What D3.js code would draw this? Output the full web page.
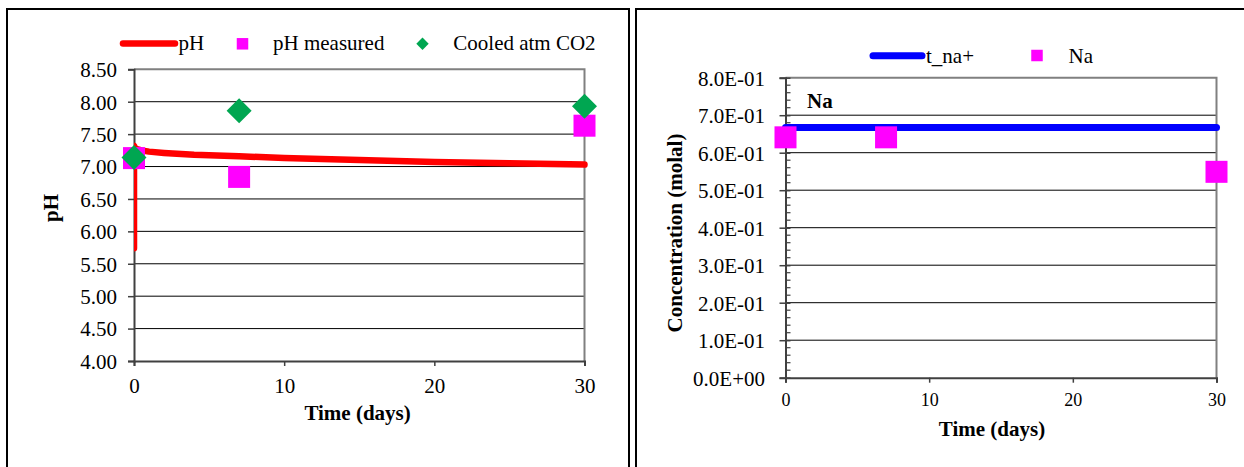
<!DOCTYPE html>
<html>
<head>
<meta charset="utf-8">
<script src="https://cdn.jsdelivr.net/npm/d3@7"></script>
<style>
  html, body { margin: 0; padding: 0; background: #fff; }
  svg { display: block; }
  text { font-family: "Liberation Serif", "Times New Roman", serif; fill: #000; }
</style>
</head>
<body>
<svg id="chart" width="1244" height="467"></svg>
<script>
// ---- pH panel data ----
const phTime = [0, 0, 0.05, 0.2, 0.5, 1, 2, 4, 7, 10, 15, 20, 25, 30];
const phModel = [5.74, 7.32, 7.29, 7.27, 7.25, 7.23, 7.21, 7.18, 7.16, 7.13, 7.10, 7.07, 7.05, 7.03];
const measTime = [0, 7, 30];
const phMeasured = [7.13, 6.84, 7.63];
const cooledTime = [0, 7, 30];
const phCooled = [7.14, 7.86, 7.93];
const phTicks = [4.0, 4.5, 5.0, 5.5, 6.0, 6.5, 7.0, 7.5, 8.0, 8.5];
const timeTicks = [0, 10, 20, 30];

// ---- Na panel data ----
const naModelTime = [0, 30];
const naModel = [0.667, 0.667];
const naTime = [0, 7, 30];
const naMeasured = [0.641, 0.641, 0.549];
const concTicks = [0, 0.1, 0.2, 0.3, 0.4, 0.5, 0.6, 0.7, 0.8];

const svg = d3.select("#chart");
svg.append("rect").attr("width", 1244).attr("height", 467).attr("fill", "#fff");

// panel frames
svg.append("rect").attr("x", 7).attr("y", 9).attr("width", 622).attr("height", 480)
  .attr("fill", "none").attr("stroke", "#000").attr("stroke-width", 2);
svg.append("rect").attr("x", 636).attr("y", 9).attr("width", 620).attr("height", 480)
  .attr("fill", "none").attr("stroke", "#000").attr("stroke-width", 2);

const FS = 21;
const MAGENTA = "#ff00ff", GREEN = "#00a651", RED = "#ff0000", BLUE = "#0000ff";

function squareAt(g, cx, cy, s, color) {
  g.append("rect").attr("x", cx - s / 2).attr("y", cy - s / 2)
    .attr("width", s).attr("height", s).attr("fill", color);
}
function diamondAt(g, cx, cy, r, color) {
  g.append("path")
    .attr("d", `M${cx},${cy - r}L${cx + r},${cy}L${cx},${cy + r}L${cx - r},${cy}Z`)
    .attr("fill", color);
}

// ================= Left panel: pH =================
{
  const x = d3.scaleLinear().domain([0, 30]).range([134, 584.5]);
  const y = d3.scaleLinear().domain([4, 8.5]).range([361, 69.3]);
  const g = svg.append("g");

  // gridlines
  g.append("g").selectAll("line").data(phTicks.filter(v => v > 4 && v < 8.5)).join("line")
    .attr("x1", x(0)).attr("x2", x(30))
    .attr("y1", d => y(d)).attr("y2", d => y(d))
    .attr("stroke", "#000").attr("stroke-width", 1);

  // plot frame (top & right)
  g.append("path")
    .attr("d", `M${x(0)},${y(8.5)}H${x(30)}V${y(4)}`)
    .attr("fill", "none").attr("stroke", "#808080").attr("stroke-width", 2);

  // y axis
  const ya = g.append("g").attr("transform", `translate(${x(0)},0)`)
    .call(d3.axisLeft(y).tickValues(phTicks).tickFormat(d3.format(".2f")).tickSize(6).tickPadding(11));
  ya.select(".domain").attr("stroke", "#404040").attr("stroke-width", 2);
  ya.selectAll(".tick line").attr("stroke", "#404040").attr("stroke-width", 1.5);
  ya.selectAll("text").attr("font-family", "Liberation Serif").attr("font-size", FS).attr("dy", "0.35em");

  // x axis
  const xa = g.append("g").attr("transform", `translate(0,${y(4)})`)
    .call(d3.axisBottom(x).tickValues(timeTicks).tickFormat(d3.format("d")).tickSize(5).tickPadding(12));
  xa.select(".domain").attr("stroke", "#404040").attr("stroke-width", 2);
  xa.selectAll(".tick line").attr("stroke", "#404040").attr("stroke-width", 1.5);
  xa.selectAll("text").attr("font-family", "Liberation Serif").attr("font-size", FS);

  // axis titles
  g.append("text").attr("x", 357.6).attr("y", 420).attr("text-anchor", "middle")
    .attr("font-weight", "bold").attr("font-size", FS).text("Time (days)");
  g.append("text").attr("transform", "translate(58,208) rotate(-90)").attr("text-anchor", "middle")
    .attr("font-weight", "bold").attr("font-size", FS).text("pH");

  // modelled pH line (clipped at the y axis)
  svg.append("clipPath").attr("id", "clipPh").append("rect")
    .attr("x", x(0)).attr("y", 0).attr("width", x(30) - x(0) + 6).attr("height", 467);
  const line = d3.line().x((d, i) => x(phTime[i])).y(d => y(d));
  g.append("path").datum(phModel).attr("d", line)
    .attr("clip-path", "url(#clipPh)")
    .attr("fill", "none").attr("stroke", RED).attr("stroke-width", 6.5)
    .attr("stroke-linejoin", "round").attr("stroke-linecap", "round");

  // markers
  phMeasured.forEach((v, i) => squareAt(g, x(measTime[i]), y(v), 22, MAGENTA));
  phCooled.forEach((v, i) => diamondAt(g, x(cooledTime[i]), y(v), 12.5, GREEN));

  // legend
  const lg = g.append("g");
  lg.append("line").attr("x1", 123).attr("x2", 175).attr("y1", 43.5).attr("y2", 43.5)
    .attr("stroke", RED).attr("stroke-width", 6.5).attr("stroke-linecap", "round");
  lg.append("text").attr("x", 178.5).attr("y", 50).attr("font-size", FS).text("pH");
  squareAt(lg, 242.5, 43.8, 11.5, MAGENTA);
  lg.append("text").attr("x", 273).attr("y", 50).attr("font-size", FS).text("pH measured");
  diamondAt(lg, 422.5, 43.8, 6.2, GREEN);
  lg.append("text").attr("x", 453.3).attr("y", 50).attr("font-size", FS).text("Cooled atm CO2");
}

// ================= Right panel: Na =================
{
  const x = d3.scaleLinear().domain([0, 30]).range([785.5, 1216.5]);
  const y = d3.scaleLinear().domain([0, 0.8]).range([377.7, 77.7]);
  const g = svg.append("g");

  // gridlines
  g.append("g").selectAll("line").data(concTicks.filter(v => v > 0 && v < 0.8)).join("line")
    .attr("x1", x(0)).attr("x2", x(30))
    .attr("y1", d => y(d)).attr("y2", d => y(d))
    .attr("stroke", "#000").attr("stroke-width", 1);

  g.append("path")
    .attr("d", `M${x(0)},${y(0.8)}H${x(30)}V${y(0)}`)
    .attr("fill", "none").attr("stroke", "#808080").attr("stroke-width", 2);

  // minor ticks on the y axis
  const minor = d3.range(0, 81, 2).filter(k => k % 10 !== 0).map(k => k / 100);
  g.append("g").selectAll("line").data(minor).join("line")
    .attr("x1", x(0)).attr("x2", x(0) + 5)
    .attr("y1", d => y(d)).attr("y2", d => y(d))
    .attr("stroke", "#404040").attr("stroke-width", 1.2);

  const ya = g.append("g").attr("transform", `translate(${x(0)},0)`)
    .call(d3.axisLeft(y).tickValues(concTicks)
      .tickFormat(d => d.toExponential(1).replace("e", "E").replace(/E([+-])(\d)$/, "E$10$2"))
      .tickSize(6).tickPadding(14.5));
  ya.select(".domain").attr("stroke", "#404040").attr("stroke-width", 2);
  ya.selectAll(".tick line").attr("x1", 5).attr("stroke", "#404040").attr("stroke-width", 1.5);
  ya.selectAll("text").attr("font-family", "Liberation Serif").attr("font-size", FS).attr("dy", "0.35em");

  const xa = g.append("g").attr("transform", `translate(0,${y(0)})`)
    .call(d3.axisBottom(x).tickValues(timeTicks).tickFormat(d3.format("d")).tickSize(5).tickPadding(10.5));
  xa.select(".domain").attr("stroke", "#404040").attr("stroke-width", 2);
  xa.selectAll(".tick line").attr("stroke", "#404040").attr("stroke-width", 1.5);
  xa.selectAll("text").attr("font-family", "Liberation Sans").attr("font-size", 18);

  g.append("text").attr("x", 992).attr("y", 435.5).attr("text-anchor", "middle")
    .attr("font-weight", "bold").attr("font-size", FS).text("Time (days)");
  g.append("text").attr("transform", "translate(681.5,233) rotate(-90)").attr("text-anchor", "middle")
    .attr("font-weight", "bold").attr("font-size", FS).text("Concentration (molal)");

  // in-plot label
  g.append("text").attr("x", 807).attr("y", 108).attr("font-weight", "bold").attr("font-size", FS).text("Na");

  // modelled Na line
  const line = d3.line().x((d, i) => x(naModelTime[i])).y(d => y(d));
  g.append("path").datum(naModel).attr("d", line)
    .attr("fill", "none").attr("stroke", BLUE).attr("stroke-width", 7)
    .attr("stroke-linecap", "round");

  naMeasured.forEach((v, i) => squareAt(g, x(naTime[i]), y(v), 22, MAGENTA));

  // legend
  const lg = g.append("g");
  lg.append("line").attr("x1", 873).attr("x2", 922).attr("y1", 55.7).attr("y2", 55.7)
    .attr("stroke", BLUE).attr("stroke-width", 7).attr("stroke-linecap", "round");
  lg.append("text").attr("x", 926).attr("y", 62.5).attr("font-size", FS).text("t_na+");
  squareAt(lg, 1037, 55.5, 11.5, MAGENTA);
  lg.append("text").attr("x", 1068.5).attr("y", 62.5).attr("font-size", FS).text("Na");
}
</script>
</body>
</html>
